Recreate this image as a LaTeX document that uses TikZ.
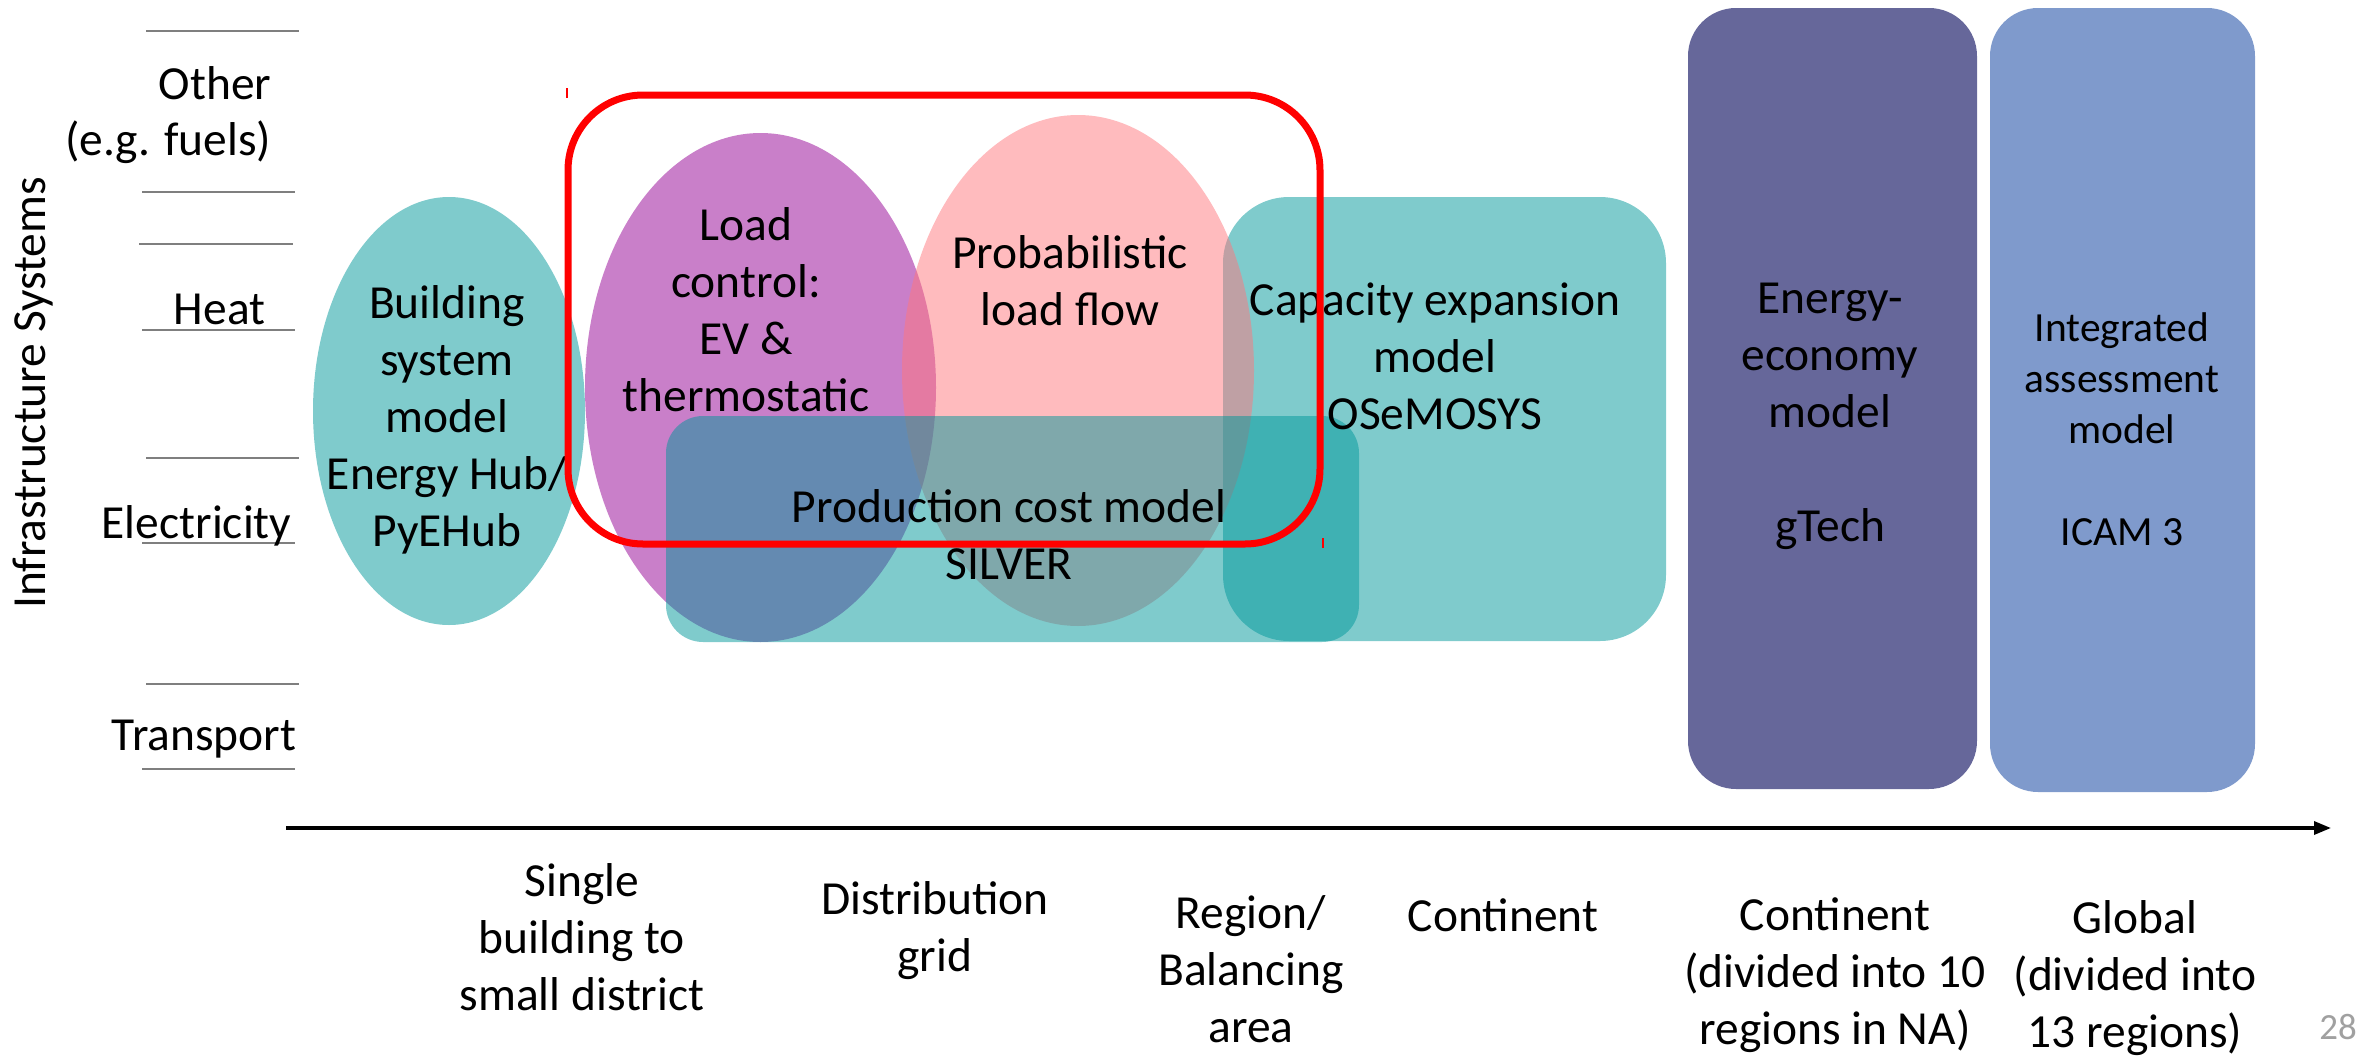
\documentclass[tikz,border=0pt]{standalone}
\usepackage{fontspec}
\setmainfont{Carlito}
\usetikzlibrary{arrows.meta}
\definecolor{tealfill}{HTML}{00979A}
\definecolor{plum}{HTML}{930093}
\definecolor{salmon}{HTML}{FF777D}
\definecolor{slate}{HTML}{66679A}
\definecolor{cornflower}{HTML}{7F9ACC}
\definecolor{rowline}{HTML}{7F7F7F}
\definecolor{pagenum}{HTML}{A0A0A0}
\begin{document}
\begin{tikzpicture}[x=0.01cm, y=-0.01cm,
  txt/.style={font=\fontsize{13.5}{16.2}\selectfont, align=center, inner sep=0pt},
  smalltxt/.style={font=\fontsize{11.8}{14.5}\selectfont, align=center, inner sep=0pt},
  rowlab/.style={font=\fontsize{13.5}{16}\selectfont, inner sep=0pt, anchor=base east},
  sep/.style={draw=rowline, line width=0.45pt},
  halfteal/.style={fill=tealfill, fill opacity=0.5},
  hilite/.style={draw=red, line width=0.07cm, rounded corners=0.75cm},
  tick/.style={draw=red, line width=0.012cm},
]
\useasboundingbox (0,0) rectangle (2371,1057);

% row separators of the infrastructure axis
\draw[sep] (146,31) -- (299,31);
\draw[sep] (142,192) -- (295,192);
\draw[sep] (139,244) -- (293,244);
\draw[sep] (142,330) -- (295,330);
\draw[sep] (146,458) -- (299,458);
\draw[sep] (142,543) -- (295,543);
\draw[sep] (146,684) -- (299,684);
\draw[sep] (142,769) -- (295,769);

% model scopes
\fill[halfteal] (449,411) ellipse [x radius=136, y radius=214];
\fill[halfteal, rounded corners=0.66cm] (1223,197) rectangle (1666,641);
\fill[plum, fill opacity=0.5] (760.5,387.5) ellipse [x radius=175.5, y radius=254.5];
\fill[salmon, fill opacity=0.5] (1078,370.5) ellipse [x radius=176, y radius=255.5];
\fill[halfteal, rounded corners=0.37cm] (666,416) rectangle (1359,642);
\fill[slate, rounded corners=0.48cm] (1688,8) rectangle (1977,789);
\fill[cornflower, rounded corners=0.48cm] (1990,8) rectangle (2255,792);

% model labels
\node[txt] (bldg) at (447,420) {Building\\system\\model\\Energy Hub/\\PyEHub};
\node[txt] (loadctl) at (746,310) {Load\\control:\\EV \&\\thermostatic};
\node[txt] (plf) at (1070,281) {Probabilistic\\load flow};
\node[txt] (pcm) at (1009,535) {Production cost model\\SILVER};
\node[txt] (cem) at (1435,356) {Capacity expansion\\model\\OSeMOSYS};
\node[txt] (eem) at (1830,416) {Energy-\\economy\\model\\\mbox{}\\gTech};
\node[smalltxt] (iam) at (2122,429) {Integrated\\assessment\\model\\\mbox{}\\ICAM 3};

% highlight frame
\draw[hilite] (568,95) rectangle (1320,544);
\draw[tick] (567,88) -- (567,98);
\draw[tick] (1323,538) -- (1323,548);

% infrastructure axis labels
\node[txt, rotate=90] (infra) at (33,393) {Infrastructure Systems};
\node[rowlab] (other) at (272,99) {Other};
\node[rowlab] (eg) at (272,155) {(e.g. fuels)};
\node[rowlab] (heat) at (266,324) {Heat};
\node[rowlab] (elec) at (292,538) {Electricity};
\node[rowlab] (transp) at (297,750) {Transport};

% spatial scale axis
\coordinate (axisstart) at (286,828);
\coordinate (axisend) at (2331,828);
\draw[line width=0.033cm, -{Triangle[length=0.17cm, width=0.13cm]}] (axisstart) -- (axisend);

\node[txt] (scale1) at (582,937) {Single\\building to\\small district};
\node[txt] (scale2) at (935,931) {Distribution\\grid};
\node[txt] (scale3) at (1251,969) {Region/\\Balancing\\area};
\node[txt] (scale4) at (1503,915) {Continent};
\node[txt] (scale5) at (1835,975) {Continent\\(divided into 10\\regions in NA)};
\node[txt] (scale6) at (2135,978) {Global\\(divided into\\13 regions)};
\node[font=\fontsize{10.5}{12}\selectfont, text=pagenum, inner sep=0pt] (pg) at (2338,1027) {28};
\end{tikzpicture}
\end{document}
